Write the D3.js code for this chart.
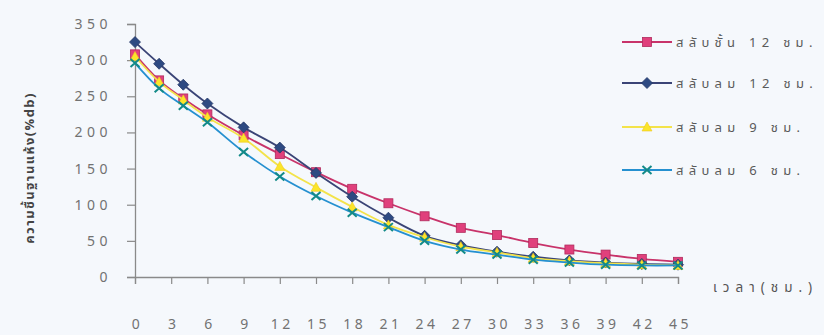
<!DOCTYPE html>
<html>
<head>
<meta charset="utf-8">
<script src="https://cdn.jsdelivr.net/npm/d3@7"></script>
<style>
  html, body { margin: 0; padding: 0; background: #f5f8fc; }
  svg { display: block; }
  text { font-family: "Noto Sans Thai", "Noto Sans", "DejaVu Sans", sans-serif; }
</style>
</head>
<body>
<svg id="chart" width="824" height="335"></svg>
<script>
// Drying time (hours)
const hours = [0, 2, 4, 6, 9, 12, 15, 18, 21, 24, 27, 30, 33, 36, 39, 42, 45];

// Moisture content, dry basis (%db), per drying scheme
const layer12 = [308, 272, 247, 225, 196, 170, 145, 122, 102, 84, 68, 58, 47, 38, 31, 25, 21];
const air12   = [325, 295, 266, 240, 207, 179, 144, 111, 82, 57, 44, 35, 28, 23, 20, 18, 17];
const air9    = [305, 270, 245, 221, 192, 153, 124, 97, 72, 55, 42, 34, 26, 22, 19, 17, 16];
const air6    = [296, 261, 237, 214, 173, 139, 112, 89, 69, 50, 38, 31, 24, 20, 17, 16, 16];

const seriesNames = ["สลับชั้น 12 ชม.", "สลับลม 12 ชม.", "สลับลม 9 ชม.", "สลับลม 6 ชม."];
const xTicks = [0, 3, 6, 9, 12, 15, 18, 21, 24, 27, 30, 33, 36, 39, 42, 45];
const yTicks = [0, 50, 100, 150, 200, 250, 300, 350];

const series = [
  { name: seriesNames[0], values: layer12, line: "#c8336a", fill: "#e0407c", stroke: "#b02a5c", shape: "square" },
  { name: seriesNames[1], values: air12,   line: "#3a4476", fill: "#2e4a82", stroke: "#253766", shape: "diamond" },
  { name: seriesNames[2], values: air9,    line: "#f3e34a", fill: "#fbe52a", stroke: "#f0c820", shape: "triangle" },
  { name: seriesNames[3], values: air6,    line: "#2590d0", fill: "none",    stroke: "#138a88", shape: "cross" }
];

const svg = d3.select("#chart");
const x = d3.scaleLinear().domain([0, 45]).range([135, 678]);
const y = d3.scaleLinear().domain([0, 350]).range([277, 24]);

const axisColor = "#8a8a8a";
const textColor = "#727272";

// Y axis
const yAxis = svg.append("g").attr("transform", "translate(135,0)")
  .call(d3.axisLeft(y).tickValues(yTicks).tickSize(8).tickPadding(19));
yAxis.select(".domain").attr("stroke", axisColor).attr("stroke-width", 1.3);
yAxis.selectAll(".tick line").attr("stroke", axisColor).attr("stroke-width", 1.2);
yAxis.selectAll(".tick text")
  .attr("fill", textColor).attr("font-size", 14).attr("letter-spacing", 4.5)
  .attr("dx", 4);

// X axis
const xAxis = svg.append("g").attr("transform", "translate(0,277)")
  .call(d3.axisBottom(x).tickValues(xTicks).tickSize(7).tickPadding(35));
xAxis.select(".domain").attr("stroke", axisColor).attr("stroke-width", 1.3);
xAxis.selectAll(".tick text")
  .attr("fill", textColor).attr("font-size", 14).attr("letter-spacing", 3.5)
  .attr("dx", 2);
xAxis.selectAll(".tick line").attr("stroke", axisColor).attr("stroke-width", 1.2);

// Axis titles
svg.append("text")
  .attr("x", 713).attr("y", 292)
  .attr("fill", "#555").attr("font-size", 13.5).attr("letter-spacing", 6)
  .text("เวลา(ชม.)");

svg.append("text")
  .attr("transform", "translate(34,168) rotate(-90)")
  .attr("text-anchor", "middle")
  .attr("fill", "#444").attr("font-size", 13).attr("font-weight", "bold").attr("letter-spacing", 1.4)
  .text("ความชื้นฐานแห้ง(%db)");

// Marker drawing helper
function drawMarker(g, s, cx, cy) {
  if (s.shape === "square") {
    g.append("rect").attr("x", cx - 4.5).attr("y", cy - 4.5).attr("width", 9).attr("height", 9)
      .attr("fill", s.fill).attr("stroke", s.stroke).attr("stroke-width", 0.8);
  } else if (s.shape === "diamond") {
    g.append("path").attr("d", `M${cx},${cy - 5.5}L${cx + 5.5},${cy}L${cx},${cy + 5.5}L${cx - 5.5},${cy}Z`)
      .attr("fill", s.fill).attr("stroke", s.stroke).attr("stroke-width", 0.8);
  } else if (s.shape === "triangle") {
    g.append("path").attr("d", `M${cx},${cy - 5}L${cx + 5},${cy + 4}L${cx - 5},${cy + 4}Z`)
      .attr("fill", s.fill).attr("stroke", s.stroke).attr("stroke-width", 0.6);
  } else {
    g.append("path").attr("d", `M${cx - 4.5},${cy - 4}L${cx + 4.5},${cy + 4}M${cx - 4.5},${cy + 4}L${cx + 4.5},${cy - 4}`)
      .attr("fill", "none").attr("stroke", s.stroke).attr("stroke-width", 2);
  }
}

// Series lines and markers
const line = d3.line()
  .x((d, i) => x(hours[i]))
  .y(d => y(d))
  .curve(d3.curveCatmullRom.alpha(0.5));

series.forEach(s => {
  const g = svg.append("g");
  g.append("path").datum(s.values)
    .attr("d", line)
    .attr("fill", "none")
    .attr("stroke", s.line)
    .attr("stroke-width", 1.8);
  s.values.forEach((v, i) => drawMarker(g, s, x(hours[i]), y(v)));
});

// Legend
const legendRows = [42, 83, 127, 170];
series.forEach((s, i) => {
  const g = svg.append("g");
  const ly = legendRows[i];
  g.append("line").attr("x1", 622).attr("x2", 672).attr("y1", ly).attr("y2", ly)
    .attr("stroke", s.line).attr("stroke-width", 2);
  drawMarker(g, s, 647, ly);
  g.append("text").attr("x", 676).attr("y", ly + 4.5)
    .attr("fill", "#5a5a5a").attr("font-size", 13).attr("letter-spacing", 5.3)
    .text(s.name);
});
</script>
</body>
</html>
